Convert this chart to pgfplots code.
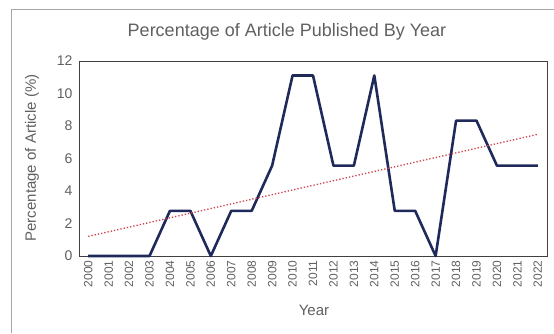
\documentclass[border=0pt]{standalone}
\usepackage{fontspec}
\setmainfont{Liberation Sans}
\usepackage{pgfplots}
\pgfplotsset{compat=1.18}
\definecolor{txt}{HTML}{606060}
\definecolor{navy}{HTML}{1F2A5A}
\definecolor{trend}{HTML}{D0404A}
\begin{document}
\begin{tikzpicture}[x=1pt,y=1pt]
\useasboundingbox (0,0) rectangle (554,333);
\draw[gray!70, line width=1pt] (11,0) -- (11,323) -- (554,323);
\begin{axis}[
  at={(79pt,77pt)}, anchor=south west,
  scale only axis, width=468pt, height=195pt,
  xmin=-0.45, xmax=22.45, ymin=0, ymax=12,
  xtick={0,...,22},
  xticklabels={2000,2001,2002,2003,2004,2005,2006,2007,2008,2009,2010,2011,2012,2013,2014,2015,2016,2017,2018,2019,2020,2021,2022},
  xticklabel style={rotate=90, anchor=east, font=\fontsize{12}{14}\selectfont, text=txt, xshift=-1pt},
  ytick={0,2,...,12},
  yticklabel style={font=\fontsize{14}{16}\selectfont, text=txt, xshift=-3pt},
  /pgf/number format/assume math mode=true,
  major tick length=0pt,
  axis line style={black!75, line width=0.8pt},
  clip=false,
]
\addplot[navy, line width=2.6pt, line join=round] coordinates {
(0,0) (1,0) (2,0) (3,0) (4,2.78) (5,2.78) (6,0) (7,2.78) (8,2.78) (9,5.56) (10,11.11) (11,11.11) (12,5.56) (13,5.56) (14,11.11) (15,2.78) (16,2.78) (17,0) (18,8.33) (19,8.33) (20,5.56) (21,5.56) (22,5.56)};
\addplot[trend, line width=1.3pt, dotted] coordinates {(0,1.207) (22,7.488)};
\end{axis}
\node[text=txt, font=\fontsize{18}{21}\selectfont] at (287,301) {Percentage of Article Published By Year};
\node[text=txt, rotate=90, font=\fontsize{15}{18}\selectfont] at (32,175) {Percentage of Article (\%)};
\node[text=txt, font=\fontsize{15}{18}\selectfont] at (314,23) {Year};
\end{tikzpicture}
\end{document}
